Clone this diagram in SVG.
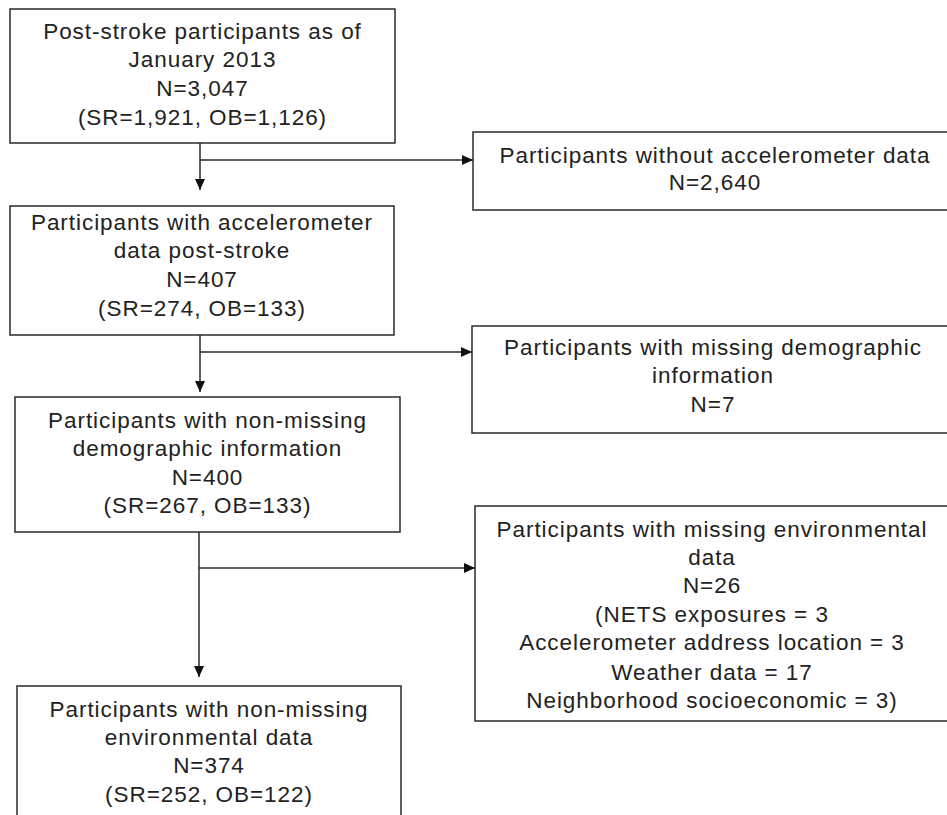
<svg xmlns="http://www.w3.org/2000/svg" width="947" height="815" viewBox="0 0 947 815">
<style>
.box{fill:#fff;stroke:#2a2a2a;stroke-width:1.5}
.t{font-family:"Liberation Sans",Arial,sans-serif;font-size:22.5px;letter-spacing:0.95px;fill:#222;text-anchor:middle}
.c{fill:none;stroke:#2a2a2a;stroke-width:1.5}
</style>
<defs>
<marker id="ah" markerUnits="userSpaceOnUse" markerWidth="12" markerHeight="12" viewBox="0 0 12 12" refX="11" refY="6" orient="auto">
<path d="M0,1 L11,6 L0,11 Z" fill="#111"/>
</marker>
</defs>
<rect width="947" height="815" fill="#fff"/>
<g id="connectors">
<path class="c" d="M200,143 V190" marker-end="url(#ah)"/>
<path class="c" d="M200,160 H473" marker-end="url(#ah)"/>
<path class="c" d="M200,335 V392" marker-end="url(#ah)"/>
<path class="c" d="M200,352 H472" marker-end="url(#ah)"/>
<path class="c" d="M199,532 V677" marker-end="url(#ah)"/>
<path class="c" d="M199,568 H475" marker-end="url(#ah)"/>
</g>
<g id="n1">
<rect class="box" x="10" y="9" width="385" height="134"/>
<text class="t" x="202.5" y="39">Post-stroke participants as of</text>
<text class="t" x="202.5" y="67">January 2013</text>
<text class="t" x="202.5" y="96">N=3,047</text>
<text class="t" x="202.5" y="125">(SR=1,921, OB=1,126)</text>
</g>
<g id="n2">
<rect class="box" x="473" y="132" width="480" height="78"/>
<text class="t" x="715" y="163">Participants without accelerometer data</text>
<text class="t" x="715" y="190">N=2,640</text>
</g>
<g id="n3">
<rect class="box" x="10" y="206" width="384" height="129"/>
<text class="t" x="202" y="230">Participants with accelerometer</text>
<text class="t" x="202" y="258">data post-stroke</text>
<text class="t" x="202" y="287">N=407</text>
<text class="t" x="202" y="316">(SR=274, OB=133)</text>
</g>
<g id="n4">
<rect class="box" x="472" y="326" width="480" height="107"/>
<text class="t" x="713" y="355">Participants with missing demographic</text>
<text class="t" x="713" y="383">information</text>
<text class="t" x="713" y="412">N=7</text>
</g>
<g id="n5">
<rect class="box" x="15" y="397" width="385" height="135"/>
<text class="t" x="207.5" y="428">Participants with non-missing</text>
<text class="t" x="207.5" y="456">demographic information</text>
<text class="t" x="207.5" y="485">N=400</text>
<text class="t" x="207.5" y="513">(SR=267, OB=133)</text>
</g>
<g id="n6">
<rect class="box" x="475" y="506" width="480" height="215"/>
<text class="t" x="712" y="537">Participants with missing environmental</text>
<text class="t" x="712" y="565">data</text>
<text class="t" x="712" y="593">N=26</text>
<text class="t" x="712" y="622">(NETS exposures = 3</text>
<text class="t" x="712" y="650">Accelerometer address location = 3</text>
<text class="t" x="712" y="680">Weather data = 17</text>
<text class="t" x="712" y="708">Neighborhood socioeconomic = 3)</text>
</g>
<g id="n7">
<rect class="box" x="17" y="686" width="384" height="140"/>
<text class="t" x="209" y="717">Participants with non-missing</text>
<text class="t" x="209" y="745">environmental data</text>
<text class="t" x="209" y="773">N=374</text>
<text class="t" x="209" y="802">(SR=252, OB=122)</text>
</g>
</svg>
